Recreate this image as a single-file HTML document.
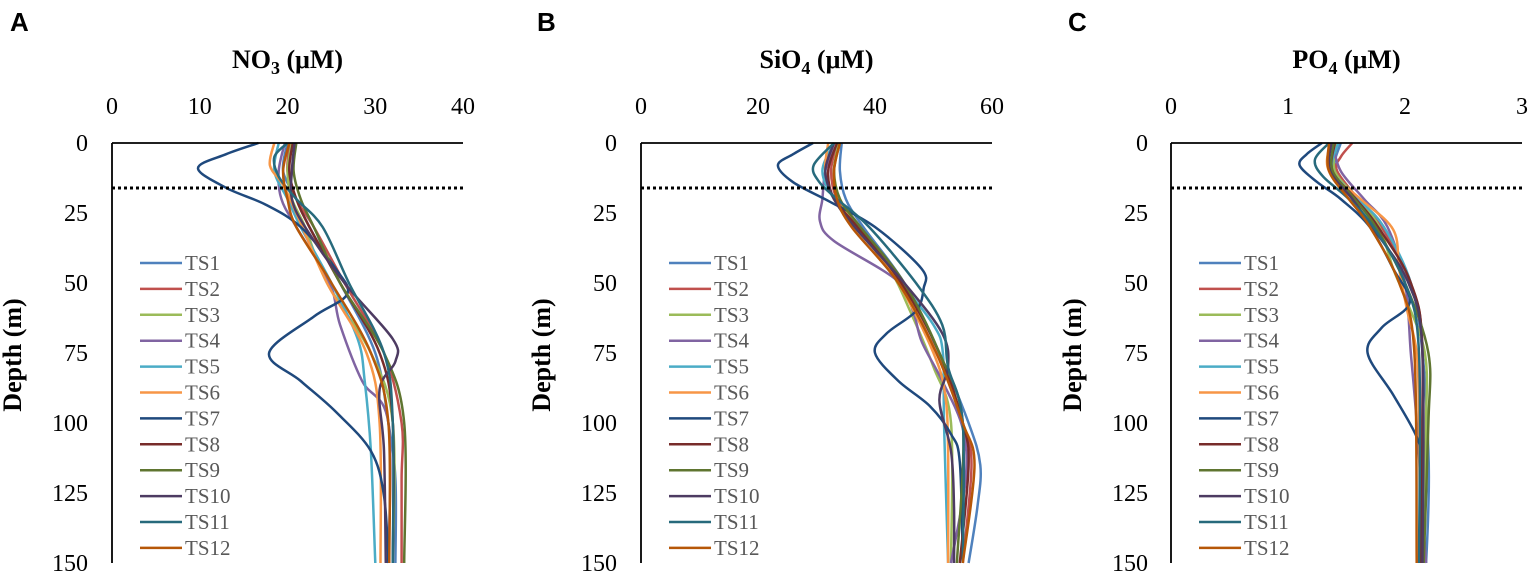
<!DOCTYPE html>
<html><head><meta charset="utf-8"><style>
html,body{margin:0;padding:0;background:#fff;}
svg{display:block;}
.t{font-family:"Liberation Serif",serif;}
</style></head><body>
<svg id="s" width="1535" height="580" xmlns="http://www.w3.org/2000/svg"></svg>
<script>
(function(){
const S=document.getElementById('s');
let h='';
const cols=['#4F81BD','#C0504D','#9BBB59','#8064A2','#4BACC6','#F79646','#1F497D','#772C2A','#5F7530','#4D3B62','#276A7C','#B65708'];
const yTop=143,yBot=563;
const panels=[
{x0:112,x1:463,max:40,letter:'A',lx:10,title:'NO',sub:'3',ticks:[0,10,20,30,40],ylx:88,
data:[
[[0,20],[10,19.5],[20,21],[30,22.5],[50,26],[75,30],[100,31.5],[120,32.3],[150,32.3]],
[[0,20.3],[10,20],[20,21],[30,23],[50,26.5],[75,31],[100,33],[120,33],[150,33]],
[[0,20.5],[10,20],[20,20.5],[30,22],[50,24.5],[75,29.5],[100,32],[150,32]],
[[0,19.7],[10,19],[20,19.3],[30,21],[50,24.8],[65,26],[85,28.5],[100,31.5],[150,31.5]],
[[0,19],[10,18.5],[20,20],[30,21.5],[50,25],[70,28],[85,28.8],[110,29.5],[150,30]],
[[0,18.5],[8,18],[15,19.5],[25,21],[50,24.5],[75,29],[100,30.5],[150,30.6]],
[[0,16.7],[4,13],[9,9.8],[16,13],[22,17.5],[30,21.5],[45,25.5],[54,26.8],[62,23],[75,17.9],[85,21.5],[96,25.5],[110,29.5],[126,31],[150,31.5]],
[[0,20.6],[10,20.2],[20,21],[30,22.5],[50,26],[75,30.5],[100,32],[150,32]],
[[0,21],[10,20.7],[20,21.5],[30,23],[50,26],[75,31],[100,33.3],[150,33.3]],
[[0,20.8],[10,20.5],[20,20.5],[30,22],[50,26.5],[70,32],[78,32.3],[88,30.5],[110,31],[150,31.2]],
[[0,20],[5,18.5],[12,19],[20,21],[30,24],[50,27],[75,31],[100,32],[150,32]],
[[0,20.2],[10,19.5],[20,20],[30,21],[50,25],[75,29.5],[100,31.5],[150,31.6]]]},
{x0:641,x1:992,max:60,letter:'B',lx:537,title:'SiO',sub:'4',ticks:[0,20,40,60],ylx:617,
data:[
[[0,34.3],[10,34],[20,35],[30,38],[50,45],[75,51],[100,56],[115,58],[130,57.5],[150,56]],
[[0,33.5],[10,32.5],[20,33.5],[30,37],[50,44],[75,50.5],[100,55],[115,56.5],[150,55]],
[[0,33.8],[10,33],[20,34],[30,37],[45,42.5],[60,46],[80,50],[100,53],[150,53]],
[[0,33],[10,31.5],[20,31],[28,30.6],[35,33],[49,43.7],[60,46.5],[71,48],[85,51.5],[102,55],[120,55.5],[150,53]],
[[0,33],[10,31],[20,33],[30,37],[50,44.5],[65,50],[75,51.6],[100,51.8],[150,52.5]],
[[0,32],[10,31.5],[20,33],[30,37],[50,44],[75,50],[90,52],[110,52.5],[150,52.5]],
[[0,29.4],[4,26],[8,23.4],[14,26],[21,32.3],[30,40],[45,48],[52,48.3],[60,47],[68,42],[75,40],[85,44],[94,49.4],[104,53],[114,54.5],[150,55]],
[[0,33.5],[10,32],[20,33],[30,37],[50,44.5],[75,51],[100,55],[115,56],[150,54.5]],
[[0,34],[10,33],[20,34],[30,37.5],[50,45],[75,51],[100,55],[150,54]],
[[0,33],[10,31.5],[20,33],[30,36.5],[50,45],[68,51.5],[80,52.5],[92,51],[110,53],[130,53.5],[150,53.5]],
[[0,33],[8,29.5],[14,30.5],[20,33.5],[30,39],[50,47],[65,51.5],[80,52.5],[100,55],[150,55]],
[[0,34],[10,33],[20,33.5],[30,36],[50,44],[75,50.5],[100,55],[115,57],[150,55]]]},
{x0:1171,x1:1522,max:3,letter:'C',lx:1068,title:'PO',sub:'4',ticks:[0,1,2,3],ylx:1148,
data:[
[[0,1.45],[10,1.4],[20,1.6],[30,1.8],[50,2.05],[75,2.15],[110,2.2],[130,2.2],[150,2.18]],
[[0,1.55],[5,1.45],[10,1.42],[20,1.6],[30,1.8],[50,2.05],[75,2.15],[150,2.12]],
[[0,1.42],[10,1.4],[20,1.6],[30,1.78],[45,1.9],[55,2.0],[75,2.17],[100,2.18],[150,2.15]],
[[0,1.38],[10,1.45],[20,1.65],[30,1.85],[50,2.0],[75,2.05],[100,2.1],[150,2.18]],
[[0,1.43],[10,1.38],[20,1.6],[30,1.82],[50,2.05],[75,2.15],[150,2.15]],
[[0,1.36],[10,1.35],[20,1.62],[31,1.9],[45,1.95],[60,2.02],[75,2.1],[100,2.12],[150,2.13]],
[[0,1.29],[4,1.16],[8,1.10],[14,1.25],[20,1.45],[30,1.7],[45,1.9],[57,2.04],[66,1.8],[75,1.68],[90,1.9],[105,2.1],[114,2.13],[150,2.13]],
[[0,1.40],[10,1.38],[20,1.58],[30,1.77],[50,2.05],[75,2.15],[150,2.13]],
[[0,1.39],[10,1.38],[20,1.57],[30,1.75],[50,2.0],[75,2.2],[100,2.2],[150,2.16]],
[[0,1.37],[10,1.36],[20,1.55],[30,1.72],[50,2.03],[75,2.15],[150,2.15]],
[[0,1.35],[6,1.23],[12,1.3],[20,1.52],[30,1.73],[50,2.0],[75,2.12],[150,2.12]],
[[0,1.35],[10,1.35],[20,1.52],[30,1.7],[50,1.95],[75,2.08],[150,2.1]]]}
];
function path(pts){
 let d='M'+pts[0][0].toFixed(1)+','+pts[0][1].toFixed(1);
 for(let i=0;i<pts.length-1;i++){
  const p0=pts[i-1]||pts[i],p1=pts[i],p2=pts[i+1],p3=pts[i+2]||p2;
  const c1=[p1[0]+(p2[0]-p0[0])/6,p1[1]+(p2[1]-p0[1])/6];
  const c2=[p2[0]-(p3[0]-p1[0])/6,p2[1]-(p3[1]-p1[1])/6];
  d+='C'+c1.map(v=>v.toFixed(1)).join(',')+' '+c2.map(v=>v.toFixed(1)).join(',')+' '+p2.map(v=>v.toFixed(1)).join(',');
 }
 return d;
}
panels.forEach(P=>{
 const sx=v=>P.x0+v*(P.x1-P.x0)/P.max, sy=d=>yTop+d*(yBot-yTop)/150;
 h+=`<text x="${P.lx}" y="31" font-family="Liberation Sans,sans-serif" font-weight="bold" font-size="26">${P.letter}</text>`;
 const cx=(P.x0+P.x1)/2;
 h+=`<text class="t" x="${cx}" y="68" text-anchor="middle" font-weight="bold" font-size="26">${P.title}<tspan font-size="18" dy="6">${P.sub}</tspan><tspan dy="-6"> (μM)</tspan></text>`;
 P.ticks.forEach(t=>{h+=`<text class="t" x="${sx(t)}" y="114" text-anchor="middle" font-size="24">${t}</text>`;});
 [0,25,50,75,100,125,150].forEach(d=>{h+=`<text class="t" x="${P.ylx}" y="${sy(d)+8}" text-anchor="end" font-size="24">${d}</text>`;});
 h+=`<text class="t" transform="translate(${P.ylx-67},355) rotate(-90)" text-anchor="middle" font-weight="bold" font-size="26">Depth (m)</text>`;
 P.data.forEach((s,i)=>{
  const pts=s.map(p=>[sx(p[1]),sy(p[0])]);
  h+=`<path d="${path(pts)}" fill="none" stroke="${cols[i]}" stroke-width="2.5"/>`;
 });
 h+=`<line x1="${P.x0}" y1="${yTop}" x2="${P.x1}" y2="${yTop}" stroke="#000" stroke-width="1.8"/>`;
 h+=`<line x1="${P.x0}" y1="${yTop}" x2="${P.x0}" y2="${yBot}" stroke="#000" stroke-width="1.8"/>`;
 h+=`<line x1="${P.x0}" y1="188" x2="${P.x1}" y2="188" stroke="#000" stroke-width="3" stroke-dasharray="3,3"/>`;
 const lx=P.x0+28;
 for(let i=0;i<12;i++){
  const y=263+i*25.9;
  h+=`<line x1="${lx}" y1="${y}" x2="${lx+42}" y2="${y}" stroke="${cols[i]}" stroke-width="2.5"/>`;
  h+=`<text class="t" x="${lx+45}" y="${y+7}" font-size="21" fill="#595959">TS${i+1}</text>`;
 }
});
S.innerHTML=h;
})();
</script>
</body></html>
